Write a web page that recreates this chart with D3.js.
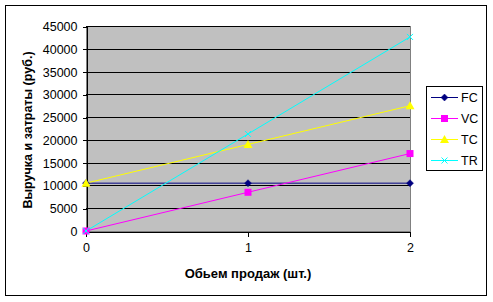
<!DOCTYPE html>
<html>
<head>
<meta charset="utf-8">
<script src="https://cdn.jsdelivr.net/npm/d3@7"></script>
<style>
  body { margin: 0; background: #fff; }
  text { font-family: Arial, "Liberation Sans", sans-serif; }
</style>
</head>
<body>
<div id="chart"></div>
<script>
// data
var volumes = [0, 1, 2];
var fcValues = [10500, 10500, 10500];
var vcValues = [0, 8500, 17000];
var tcValues = [10500, 19000, 27500];
var trValues = [0, 21300, 42600];
var yTicks = [0, 5000, 10000, 15000, 20000, 25000, 30000, 35000, 40000, 45000];
var seriesNames = ["FC", "VC", "TC", "TR"];

var w = 493, h = 302;
var plotLeft = 86, plotRight = 410, plotTop = 26, plotBottom = 231;

var series = [
  { name: seriesNames[0], values: fcValues, color: "#000080", marker: "diamond" },
  { name: seriesNames[1], values: vcValues, color: "#FF00FF", marker: "square" },
  { name: seriesNames[2], values: tcValues, color: "#FFFF00", marker: "triangle" },
  { name: seriesNames[3], values: trValues, color: "#00FFFF", marker: "x" }
];

var svg = d3.select("#chart").append("svg")
    .attr("width", w)
    .attr("height", h);

// outer frame
svg.append("rect")
    .attr("x", 5.5).attr("y", 5.5)
    .attr("width", 481).attr("height", 290)
    .style("fill", "#fff")
    .style("stroke", "#000")
    .style("stroke-width", 1);

var x = d3.scaleLinear().domain([0, 2]).range([plotLeft, plotRight]);
var y = d3.scaleLinear().domain([0, 45000]).range([plotBottom, plotTop]);

// plot area
svg.append("rect")
    .attr("x", plotLeft + 0.5).attr("y", plotTop + 0.5)
    .attr("width", plotRight - plotLeft).attr("height", plotBottom - plotTop)
    .style("fill", "#C0C0C0")
    .style("stroke", "#808080")
    .attr("shape-rendering", "crispEdges");

// gridlines
svg.append("g").selectAll("line")
    .data(yTicks.slice(1))
    .enter().append("line")
    .attr("x1", plotLeft).attr("x2", plotRight)
    .attr("y1", function(d) { return Math.round(y(d)) + 0.5; })
    .attr("y2", function(d) { return Math.round(y(d)) + 0.5; })
    .style("stroke", "#000")
    .attr("shape-rendering", "crispEdges");

// y axis
var yAxis = svg.append("g")
    .attr("transform", "translate(" + (plotLeft + 0.5) + ",0.5)")
    .call(d3.axisLeft(y).tickValues(yTicks).tickSize(4).tickSizeOuter(0).tickPadding(5).tickFormat(d3.format("d")));

// x axis
var xAxis = svg.append("g")
    .attr("transform", "translate(0," + (plotBottom + 0.5) + ")")
    .call(d3.axisBottom(x).tickValues(volumes).tickSize(5).tickSizeOuter(0).tickPadding(7).tickFormat(d3.format("d")));

svg.selectAll(".domain, .tick line")
    .style("stroke", "#000")
    .attr("shape-rendering", "crispEdges");
svg.selectAll(".tick text")
    .style("font-size", "12.5px")
    .style("fill", "#000")
    .style("font-family", "Arial, 'Liberation Sans', sans-serif");

// titles
svg.append("text")
    .attr("x", 248)
    .attr("y", 278)
    .attr("text-anchor", "middle")
    .style("font-size", "13px")
    .style("font-weight", "bold")
    .text("Обьем продаж (шт.)");

svg.append("text")
    .attr("transform", "translate(32," + 130 + ") rotate(-90)")
    .attr("text-anchor", "middle")
    .style("font-size", "12.5px")
    .style("font-weight", "bold")
    .text("Выручка и затраты (руб.)");

function drawMarker(g, type, color) {
  if (type === "diamond") {
    g.append("path").attr("d", "M0,-3.5L3.5,0L0,3.5L-3.5,0Z").style("fill", color).style("stroke", color).style("stroke-width", 0.5);
  } else if (type === "square") {
    g.append("rect").attr("x", -3.5).attr("y", -3.5).attr("width", 7).attr("height", 7).style("fill", color);
  } else if (type === "triangle") {
    g.append("path").attr("d", "M0,-4.5L4.5,3.5L-4.5,3.5Z").style("fill", color);
  } else {
    g.append("path").attr("d", "M-3,-3L3,3M-3,3L3,-3").style("stroke", color).style("stroke-width", 1).style("fill", "none");
  }
}

var line = d3.line()
    .x(function(d, i) { return x(volumes[i]); })
    .y(function(d) { return y(d); });

series.forEach(function(s) {
  svg.append("path")
      .attr("d", line(s.values))
      .style("fill", "none")
      .style("stroke", s.color)
      .style("stroke-width", 1);
});

series.forEach(function(s) {
  s.values.forEach(function(v, i) {
    var g = svg.append("g").attr("transform", "translate(" + x(volumes[i]) + "," + y(v) + ")");
    drawMarker(g, s.marker, s.color);
  });
});

// legend
var legend = svg.append("g");
legend.append("rect")
    .attr("x", 426.5).attr("y", 86.5)
    .attr("width", 56).attr("height", 84)
    .style("fill", "#fff")
    .style("stroke", "#000");

series.forEach(function(s, i) {
  var ly = 97 + i * 21;
  legend.append("line")
      .attr("x1", 431).attr("x2", 458)
      .attr("y1", ly + 0.5).attr("y2", ly + 0.5)
      .style("stroke", s.color);
  var g = legend.append("g").attr("transform", "translate(444.5," + (ly + 0.5) + ")");
  drawMarker(g, s.marker, s.color);
  legend.append("text")
      .attr("x", 461)
      .attr("y", ly + 4.5)
      .style("font-size", "12.5px")
      .text(s.name);
});
</script>
</body>
</html>
